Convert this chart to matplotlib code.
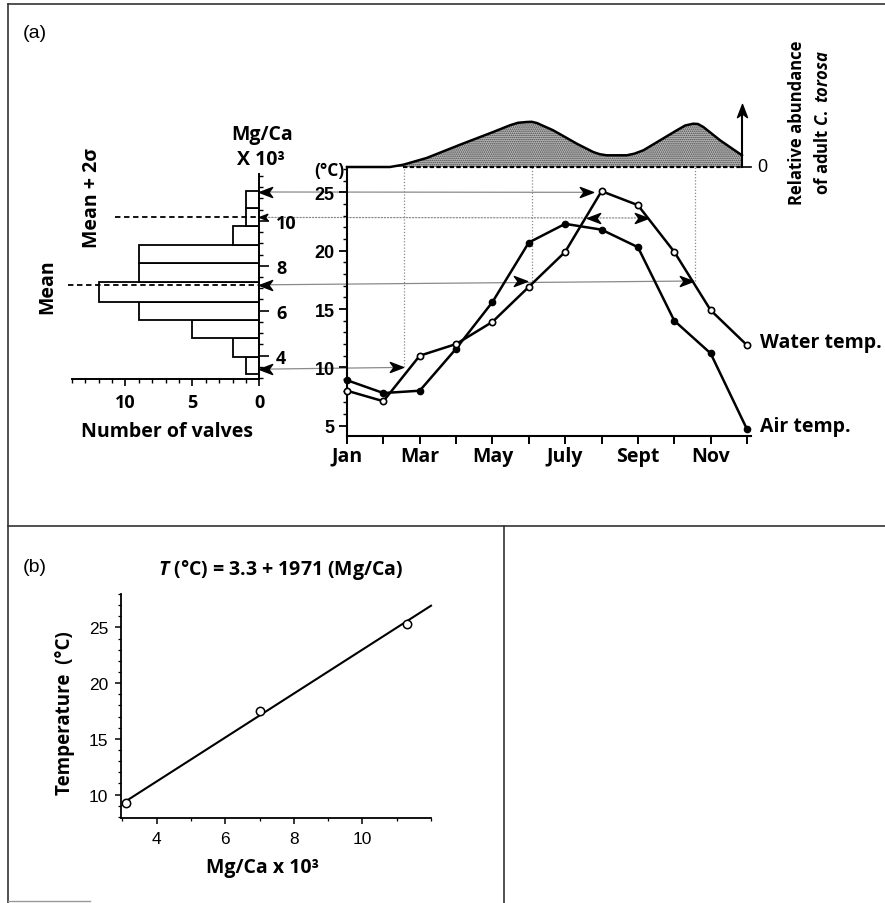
import matplotlib
matplotlib.use('Agg')
import matplotlib.pyplot as plt
from matplotlib.patches import ConnectionPatch
from matplotlib.lines import Line2D
from matplotlib.path import Path
from matplotlib.ticker import MultipleLocator
import numpy as np

plt.rcParams['mathtext.fontset'] = 'custom'
plt.rcParams['mathtext.it'] = 'Open Sans:italic:bold'
plt.rcParams['mathtext.rm'] = 'Open Sans:bold'
plt.rcParams['hatch.linewidth'] = 0.8
plt.rcParams['hatch.color'] = '#444444'

# ---------------- data ----------------
months = list(range(12))
month_labels = ['Jan', '', 'Mar', '', 'May', '', 'July', '', 'Sept', '', 'Nov', '']
water_temp = [8.0, 7.1, 11.0, 12.0, 13.9, 16.9, 19.9, 25.1, 23.9, 19.9, 14.9, 11.9]
air_temp = [8.9, 7.8, 8.0, 11.6, 15.6, 20.7, 22.3, 21.8, 20.3, 14.0, 11.2, 4.7]

abund_month = [0.0, 1.18, 1.55, 2.19, 3.11, 4.02, 4.48, 4.70, 4.94, 5.08, 5.22, 5.67,
               6.32, 6.77, 6.95, 7.14, 7.69, 7.90, 8.15, 8.61, 9.07, 9.30, 9.52,
               9.65, 9.80, 10.26, 10.86]
abund_value = [0, 0, 2.3, 9, 22.3, 35, 41.7, 44.2, 45, 45.2, 44, 36.7,
               23.3, 15, 12.8, 11.7, 11.7, 13.3, 16.7, 26.7, 36.7, 41.5, 43.3,
               43, 40, 26.7, 11.7]

hist_edges = [3.19, 3.96, 4.77, 5.59, 6.40, 7.29, 8.11, 8.93, 9.75, 10.59, 11.34]
hist_counts = [1, 2, 5, 9, 12, 9, 9, 2, 1, 1]
mgca_mean = 7.15
mgca_mean_2sigma = 10.15

ref_T = [25.0, 22.8, 17.4, 10.0]
ref_mgca = [11.28, 10.15, 7.15, 3.40]
ref_end_month = [6.77, 8.28, 9.52, 1.54]
ref_dotted = [False, True, False, False]
vline_month = [1.57, 5.09, 9.57]
vline_T = [10.0, 17.4, 17.4]

calib_mgca = [3.1, 7.0, 11.3]
calib_T = [9.25, 17.5, 25.3]
fit_mgca = [3.07, 12.0]
fit_T = [9.35, 26.95]

# ---------------- layout helpers ----------------
W, H = 885, 904
fig = plt.figure(figsize=(W / 100, H / 100), dpi=100)


def box(l, t, r, b):
    return [l / W, 1 - b / H, (r - l) / W, (b - t) / H]


def ftext(x, y, s, **kw):
    return fig.text(x / W, 1 - y / H, s, **kw)


def fline(xs, ys, **kw):
    fig.add_artist(Line2D([x / W for x in xs], [1 - y / H for y in ys],
                          transform=fig.transFigure, **kw))


def head_path(direction):
    v = np.array([(0, 0), (-1, 0.38), (-0.72, 0), (-1, -0.38), (0, 0)], float)
    if direction == 'left':
        v[:, 0] *= -1
    elif direction == 'up':
        v = v[:, ::-1].copy()
    codes = [Path.MOVETO, Path.LINETO, Path.LINETO, Path.LINETO, Path.CLOSEPOLY]
    return Path(v, codes)


BOLD = dict(family=['Open Sans', 'DejaVu Sans'], weight='bold')
HELVB = dict(family=['Liberation Sans', 'DejaVu Sans'], weight='bold')
HELV = dict(family=['Liberation Sans', 'DejaVu Sans'])
GRAY = '#8a8a8a'

# ---------------- panel frames ----------------
fline([8, 885], [5, 5], color='#333', lw=1.2)
fline([8, 8], [5, 904], color='#333', lw=1.2)
fline([8, 885], [527, 527], color='#333', lw=1.2)
fline([504, 504], [527, 904], color='#333', lw=1.2)
fline([8, 90], [902, 902], color='#999', lw=1.0)

ftext(23, 34, '(a)', fontsize=14, va='center', ha='left', **HELV)
ftext(23, 568, '(b)', fontsize=14, va='center', ha='left', **HELV)

# ---------------- main temperature axes ----------------
ax = fig.add_axes(box(347, 168, 751, 437))
ax.set_xlim(0, 11.11)
ax.set_ylim(4.12, 27.17)
for s in ['top', 'right']:
    ax.spines[s].set_visible(False)
for s in ['left', 'bottom']:
    ax.spines[s].set_linewidth(1.5)
ax.set_xticks(months)
ax.set_xticklabels(month_labels, fontsize=14, **BOLD)
ax.set_yticks([5, 10, 15, 20, 25])
ax.set_yticklabels(['5', '10', '15', '20', '25'], fontsize=13, **HELVB)
ax.yaxis.set_minor_locator(MultipleLocator(1))
ax.tick_params(axis='x', length=6, width=1.4, pad=1)
ax.tick_params(axis='y', which='major', length=6, width=1.3, pad=3)
ax.tick_params(axis='y', which='minor', length=3, width=1.0)
ax.patch.set_alpha(0)

ax.plot(months, air_temp, color='k', lw=1.8, marker='o', ms=4.5,
        mfc='k', mec='k', zorder=3, clip_on=False)
ax.plot(months, water_temp, color='k', lw=1.8, marker='o', ms=4.5,
        mfc='white', mec='k', mew=1.2, zorder=3, clip_on=False)

ax.text(-0.08, 26.9, '(°C)', ha='right', va='center', fontsize=12.5, **BOLD)
ax.text(11.36, 12.17, 'Water temp.', ha='left', va='center', fontsize=14, **BOLD)
ax.text(11.36, 4.98, 'Air temp.', ha='left', va='center', fontsize=14, **BOLD)

# vertical dotted guides
for m, T in zip(vline_month, vline_T):
    ax.plot([m, m], [T, 27.17], color=GRAY, lw=0.9, ls=(0, (1, 1.5)),
            zorder=1.5, clip_on=False)

# ---------------- abundance axes ----------------
ab = fig.add_axes(box(347, 98, 751, 168))
ab.set_xlim(0, 11.11)
ab.set_ylim(0, 70)
ab.axis('off')
ab.fill_between(abund_month[1:], 0, abund_value[1:], facecolor='#bdbdbd',
                hatch='........', edgecolor='#444', linewidth=0)
ab.plot(abund_month, abund_value, color='k', lw=1.8, clip_on=False)
ab.plot([abund_month[2], abund_month[-1]], [0, 0], color='k', lw=1.6,
        ls=(0, (2, 1)), clip_on=False)
ab.plot([abund_month[-1], 11.12], [0, 0], color='k', lw=1.2, clip_on=False)
ab.plot([abund_month[-1], abund_month[-1]], [0, 56], color='k', lw=1.5,
        clip_on=False)
ab.plot([abund_month[-1]], [63], marker=head_path('up'), ms=19, color='k',
        ls='none', clip_on=False)
ab.text(11.27, 0, '0', ha='left', va='center', fontsize=13, **HELV)

ftext(797, 123, 'Relative abundance', rotation=90, ha='center', va='center',
      fontsize=12, **BOLD)
ftext(823, 123, r'of adult $C.\ torosa$', rotation=90, ha='center',
      va='center', fontsize=12, **BOLD)

# ---------------- histogram axes ----------------
h = fig.add_axes(box(71.7, 175, 259.3, 380))
h.set_xlim(14, 0)
h.set_ylim(2.964, 12.08)
for s in ['top', 'left']:
    h.spines[s].set_visible(False)
for s in ['right', 'bottom']:
    h.spines[s].set_linewidth(1.4)
h.patch.set_alpha(0)
h.yaxis.tick_right()
h.set_xticks([0, 5, 10])
h.set_xticklabels(['0', '5', '10'], fontsize=13, **BOLD)
h.xaxis.set_minor_locator(MultipleLocator(1))
h.set_yticks([4, 6, 8, 10])
h.set_yticklabels(['4', '6', '8', '10'], fontsize=13, **BOLD)
h.yaxis.set_minor_locator(MultipleLocator(0.5))
h.tick_params(axis='x', which='major', length=5, width=1.2, pad=5)
h.tick_params(axis='x', which='minor', length=3, width=1.0)
h.tick_params(axis='y', which='major', length=7, width=1.2, pad=5)
h.tick_params(axis='y', which='minor', length=3, width=1.0)

heights = np.diff(hist_edges)
h.barh(hist_edges[:-1], hist_counts, height=heights, left=0, align='edge',
       color='white', edgecolor='black', linewidth=1.3, zorder=2)
h.plot([14.24, 0], [mgca_mean, mgca_mean], color='k', lw=1.3,
       ls=(0, (3, 2)), clip_on=False, zorder=3)
h.plot([10.74, 0], [mgca_mean_2sigma, mgca_mean_2sigma], color='k', lw=1.3,
       ls=(0, (3, 2)), clip_on=False, zorder=3)

ftext(47, 287, 'Mean', rotation=90, ha='center', va='center', fontsize=14, **BOLD)
ftext(92, 198, 'Mean + 2σ', rotation=90, ha='center', va='center', fontsize=14, **BOLD)
ftext(262, 135, 'Mg/Ca', ha='center', va='center', fontsize=14, **BOLD)
ftext(261, 160, 'X 10³', ha='center', va='center', fontsize=14, **BOLD)
ftext(167, 432, 'Number of valves', ha='center', va='center', fontsize=14, **BOLD)

# ---------------- connecting reference lines ----------------
for T, mg, mend, dotted in zip(ref_T, ref_mgca, ref_end_month, ref_dotted):
    con = ConnectionPatch(xyA=(0, mg), coordsA=h.transData,
                          xyB=(mend, T), coordsB=ax.transData,
                          color=GRAY, lw=0.9,
                          ls=(0, (1, 1.5)) if dotted else '-', zorder=1.5)
    ax.add_artist(con)
    con.set_clip_on(False)

# arrowheads at the histogram axis
for T, mg in zip(ref_T, ref_mgca):
    size = 12 if T == 22.8 else 19
    h.plot([0], [mg], marker=head_path('left'), ms=size, color='k',
           ls='none', clip_on=False, zorder=6)

# arrowheads in the temperature plot
for m, T in [(6.77, 25.0), (4.95, 17.4), (9.52, 17.4), (1.54, 10.0), (8.28, 22.8)]:
    ax.plot([m], [T], marker=head_path('right'), ms=19, color='k',
            ls='none', clip_on=False, zorder=6)
ax.plot([6.60], [22.8], marker=head_path('left'), ms=19, color='k',
        ls='none', clip_on=False, zorder=6)

# ---------------- panel (b) ----------------
b = fig.add_axes(box(120.7, 595, 431, 819))
b.set_xlim(2.95, 12.0)
b.set_ylim(7.9, 28)
for s in ['top', 'right']:
    b.spines[s].set_visible(False)
for s in ['left', 'bottom']:
    b.spines[s].set_linewidth(1.3)
b.set_xticks([4, 6, 8, 10])
b.set_xticklabels(['4', '6', '8', '10'], fontsize=12.5, **HELV)
b.set_yticks([10, 15, 20, 25])
b.set_yticklabels(['10', '15', '20', '25'], fontsize=12.5, **HELV)
b.xaxis.set_minor_locator(MultipleLocator(1))
b.yaxis.set_minor_locator(MultipleLocator(1))
b.tick_params(which='major', length=4, width=1.1, pad=5)
b.tick_params(which='minor', length=2.5, width=0.9)
b.plot(fit_mgca, fit_T, color='k', lw=1.5, clip_on=False)
b.plot(calib_mgca, calib_T, ls='none', marker='o', ms=6, mfc='white',
       mec='k', mew=1.1, zorder=3, clip_on=False)

ftext(281, 570, r'$T$ (°C) = 3.3 + 1971 (Mg/Ca)', ha='center', va='center',
      fontsize=14, **BOLD)
ftext(65, 713, 'Temperature  (°C)', rotation=90, ha='center', va='center',
      fontsize=13.5, **BOLD)
ftext(263, 868, 'Mg/Ca x 10³', ha='center', va='center', fontsize=14, **BOLD)

fig.savefig('out.png', dpi=100)
